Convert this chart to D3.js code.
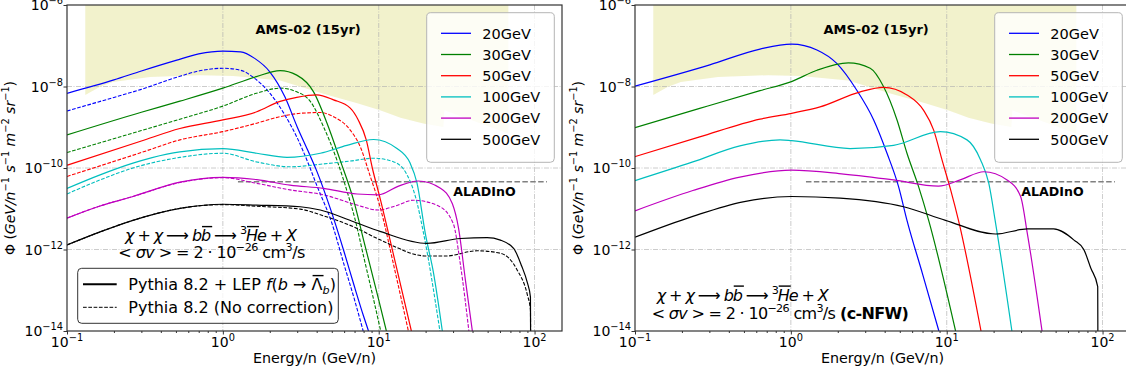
<!DOCTYPE html>
<html>
<head>
<meta charset="utf-8">
<script src="https://cdn.jsdelivr.net/npm/d3@7"></script>
<style>
  body { margin: 0; background: #fff; }
  svg { font-family: "DejaVu Sans", sans-serif; display: block; }
</style>
</head>
<body>
<div id="chart"></div>
<script>
// ---- data: [energy per nucleon (GeV/n), flux] ----
const massLabels = ['20GeV', '30GeV', '50GeV', '100GeV', '200GeV', '500GeV'];

// left panel, Pythia 8.2 + LEP f(b -> Lambda_b) (solid)
const lep20 = [[0.1, 6.8e-9], [0.2, 1.45e-8], [0.3, 2.4e-8], [0.5, 4.37e-8], [0.7, 6.3e-8], [1.0, 7.4e-8], [1.3, 7.1e-8], [1.6, 4.9e-8], [2.0, 2.3e-8], [2.5, 5.6e-9], [3.0, 1.02e-9], [3.5, 2.75e-10], [4.0, 8.5e-11], [5.0, 7.9e-12], [6.0, 8.7e-13], [7.0, 1.2e-13], [8.0, 2.3e-14], [8.6, 1e-14]];
const lep30 = [[0.1, 6.5e-10], [0.3, 2.34e-9], [0.53, 4.37e-9], [1.0, 9.1e-9], [1.64, 1.74e-8], [2.33, 2.45e-8], [2.98, 1.9e-8], [3.82, 7.4e-9], [4.66, 1.26e-9], [5.65, 1.58e-10], [6.9, 1.62e-11], [8.0, 1.7e-12], [10.0, 5.8e-14], [11.2, 1e-14]];
const lep50 = [[0.1, 1.17e-10], [0.3, 4.6e-10], [0.53, 9.3e-10], [1.0, 1.51e-9], [1.65, 2.4e-9], [2.33, 4.3e-9], [2.98, 5.4e-9], [4.0, 6.2e-9], [5.13, 4.7e-9], [6.57, 2.95e-9], [7.39, 1.51e-9], [8.32, 4.9e-10], [9.1, 1.0e-10], [10.2, 1.82e-11], [12.8, 4.7e-13], [16.2, 1e-14]];
const lep100 = [[0.1, 3.16e-11], [0.163, 6.8e-11], [0.265, 1.32e-10], [0.438, 2.2e-10], [0.53, 2.5e-10], [1.0, 3.0e-10], [1.65, 2.3e-10], [2.58, 1.82e-10], [4.22, 2.3e-10], [6.25, 3.6e-10], [9.27, 5.0e-10], [13.1, 3.0e-10], [15.9, 1.32e-10], [17.6, 4.3e-11], [19.9, 2.5e-12], [22.5, 2.6e-13], [25.6, 1e-14]];
const lep200 = [[0.1, 5.9e-12], [0.163, 1.17e-11], [0.265, 2.0e-11], [0.53, 4.5e-11], [1.0, 5.9e-11], [1.65, 5.2e-11], [2.7, 3.8e-11], [4.43, 3.16e-11], [7.26, 2.3e-11], [9.94, 2.2e-11], [13.4, 3.6e-11], [17.9, 4.8e-11], [24.9, 3.2e-11], [29.7, 1.32e-11], [32.5, 3.4e-12], [36.0, 1.78e-13], [39.9, 1e-14]];
const lep500 = [[0.1, 1.29e-12], [0.163, 2.7e-12], [0.265, 5.2e-12], [0.555, 1.05e-11], [1.0, 1.29e-11], [1.65, 1.23e-11], [3.14, 1.12e-11], [4.22, 9.3e-12], [6.9, 4.8e-12], [10.3, 2.75e-12], [20.4, 1.41e-12], [33.4, 1.86e-12], [49.6, 1.95e-12], [60.4, 1.7e-12], [73.6, 1.05e-12], [82.5, 4.0e-13], [90, 1.51e-13], [94.1, 6.8e-14], [94.3, 1e-14]];

// left panel, Pythia 8.2 no correction (dashed)
const raw20 = [[0.1, 2.5e-9], [0.2, 5.4e-9], [0.3, 8.5e-9], [0.5, 1.66e-8], [0.7, 2.4e-8], [1.0, 2.8e-8], [1.3, 2.5e-8], [1.6, 1.58e-8], [2.0, 6.9e-9], [2.5, 2.0e-9], [3.0, 5.5e-10], [3.5, 1.41e-10], [4.0, 3.8e-11], [5.0, 4.5e-12], [6.0, 4.2e-13], [7.0, 5.8e-14], [7.95, 1e-14]];
const raw30 = [[0.1, 2.4e-10], [0.3, 8.3e-10], [0.53, 1.58e-9], [1.0, 3.3e-9], [1.64, 6.8e-9], [2.33, 9.1e-9], [2.98, 7.4e-9], [3.64, 4.3e-9], [4.43, 1.02e-9], [5.39, 1.58e-10], [6.41, 2.0e-11], [7.08, 5.2e-12], [8.0, 6.8e-13], [9.0, 9.8e-14], [10.3, 1e-14]];
const raw50 = [[0.1, 6.2e-11], [0.3, 2.4e-10], [0.53, 4.9e-10], [1.0, 7.8e-10], [1.65, 1.26e-9], [2.33, 1.82e-9], [3.14, 2.2e-9], [4.22, 2.3e-9], [5.13, 1.82e-9], [6.57, 8.5e-10], [7.62, 3.3e-10], [8.83, 6.2e-11], [10.2, 1.12e-11], [12.6, 3.5e-13], [15.5, 1e-14]];
const raw100 = [[0.1, 2.3e-11], [0.163, 5.1e-11], [0.265, 1.0e-10], [0.53, 1.82e-10], [1.0, 2.3e-10], [1.65, 1.41e-10], [2.7, 1.07e-10], [4.43, 1.26e-10], [6.57, 1.48e-10], [9.27, 1.74e-10], [12.5, 1.41e-10], [15.2, 6.8e-11], [17.2, 2.0e-11], [19.4, 2.5e-12], [24.7, 1e-14]];
const raw200 = [[0.1, 5.9e-12], [0.163, 1.17e-11], [0.265, 2.0e-11], [0.53, 4.4e-11], [1.0, 5.8e-11], [1.65, 4.2e-11], [2.7, 2.9e-11], [4.43, 2.2e-11], [7.26, 1.23e-11], [9.94, 9.3e-12], [12.8, 1.17e-11], [16.7, 1.62e-11], [24.2, 1.17e-11], [30.1, 4.3e-12], [33.4, 4.4e-13], [37.9, 1e-14]];
const raw500 = [[0.1, 1.29e-12], [0.163, 2.7e-12], [0.265, 5.2e-12], [0.555, 1.05e-11], [1.0, 1.26e-11], [1.65, 1.15e-11], [3.14, 9.8e-12], [4.22, 7.1e-12], [6.9, 3.6e-12], [10.3, 1.7e-12], [20.4, 6.9e-13], [26.8, 6.9e-13], [42.8, 9.3e-13], [60.4, 8.1e-13], [77.3, 3.16e-13], [90, 7.6e-14], [94.1, 3.3e-14], [94.3, 1e-14]];

// right panel, c-NFW
const nfw20 = [[0.1, 1.02e-8], [0.302, 3.4e-8], [0.634, 8.3e-8], [1.01, 1.1e-7], [1.47, 7.9e-8], [1.97, 3.7e-8], [2.65, 8.1e-9], [3.4, 1.51e-9], [4.14, 2.3e-10], [4.91, 3.5e-11], [5.56, 5.2e-12], [6.98, 2.6e-13], [8.91, 1e-14]];
const nfw30 = [[0.1, 9.8e-10], [0.26, 2.9e-9], [0.634, 7.9e-9], [1.01, 1.32e-8], [1.47, 2.5e-8], [2.34, 3.8e-8], [3.23, 2.8e-8], [3.93, 1.0e-8], [4.8, 1.51e-9], [5.56, 2.3e-10], [6.6, 3.5e-11], [7.66, 5.2e-12], [11.4, 1e-14]];
const nfw50 = [[0.1, 1.9e-10], [0.26, 5.8e-10], [0.634, 1.58e-9], [1.01, 2.2e-9], [1.54, 3.16e-9], [2.79, 7.4e-9], [3.93, 9.5e-9], [5.56, 6.2e-9], [7.11, 2.6e-9], [8.25, 8.5e-10], [9.33, 1.58e-10], [10.6, 2.9e-11], [11.9, 5.2e-12], [16.6, 1e-14]];
const nfw100 = [[0.1, 4.9e-11], [0.235, 1.41e-10], [0.471, 3.5e-10], [0.852, 4.9e-10], [1.01, 4.7e-10], [2.4, 3.0e-10], [4.56, 3.6e-10], [9.1, 7.8e-10], [13.5, 4.9e-10], [16.5, 1.58e-10], [18.6, 4.3e-11], [20.6, 4.4e-12], [26.2, 1e-14]];
const nfw200 = [[0.1, 8.9e-12], [0.235, 2.8e-11], [0.471, 6.0e-11], [1.01, 8.9e-11], [2.18, 7.1e-11], [4.56, 5.1e-11], [8.85, 3.6e-11], [12.2, 5.1e-11], [17.3, 8.1e-11], [24.4, 5.1e-11], [29.8, 2.0e-11], [32.9, 2.5e-12], [40.9, 1e-14]];
const nfw500 = [[0.1, 2.0e-12], [0.235, 6.5e-12], [0.493, 1.48e-11], [1.01, 2.0e-11], [2.07, 1.82e-11], [5.29, 1.12e-11], [9.82, 5.2e-12], [20.6, 2.4e-12], [32.9, 3.2e-12], [48.5, 3.2e-12], [65.6, 1.7e-12], [76.0, 9.8e-13], [84.0, 3.5e-13], [93.1, 1.23e-13], [93.3, 1e-14]];

// AMS-02 (15yr) sensitivity: lower edge of the shaded band (band reaches the top of the axes)
const amsLower = [[0.131, 6.2e-9], [0.163, 9.8e-9], [0.197, 1.29e-8], [0.341, 1.7e-8], [0.715, 1.9e-8], [1.16, 1.82e-8], [2.33, 1.41e-8], [4.41, 6.6e-9], [7.29, 3.9e-9], [10.2, 2.6e-9], [13.8, 1.7e-9], [19.3, 1.23e-9], [26.0, 1.02e-9], [26.4, 2.6e-9], [67.0, 7.1e-10], [67.9, 7.0e-10]];
// ALADInO sensitivity level
const aladino = [[1.25, 4.6e-11], [120, 4.6e-11]];

const xTickExps = [-1, 0, 1, 2];
const yTickExps = [-14, -12, -10, -8, -6];

// ---- layout ----
const W = 1126, H = 376;
const colors = ['#0000ff', '#008000', '#ff0000', '#00bfbf', '#bf00bf', '#000000'];
const plotTop = 5, plotBottom = 331, plotW = 495;

const svg = d3.select('#chart').append('svg')
  .attr('width', W).attr('height', H);

// text with italic / super / subscript parts and optional overbars
function richText(g, x, y, parts, size, anchor, fitWidth) {
  const t = g.append('text')
    .attr('x', x).attr('y', y)
    .attr('font-size', size)
    .attr('text-anchor', anchor || 'start')
    .attr('fill', '#000');
  let shift = 0, idx = 0;
  const bars = [];
  parts.forEach(p => {
    const target = p.sup ? -size * 0.42 : p.sub ? size * 0.25 : 0;
    const s = t.append('tspan').text(p.t).attr('dy', target - shift);
    shift = target;
    const fs = (p.sup || p.sub) ? size * 0.7 : size;
    if (p.sup || p.sub) s.attr('font-size', fs);
    if (p.it) s.attr('font-style', 'italic');
    if (p.b) s.attr('font-weight', 'bold');
    if (p.bar) bars.push([idx, idx + p.t.length - 1, fs]);
    idx += p.t.length;
  });
  if (fitWidth) t.attr('textLength', fitWidth).attr('lengthAdjust', 'spacing');
  const node = t.node();
  bars.forEach(([i0, i1, fs]) => {
    const a = node.getStartPositionOfChar(i0);
    const b = node.getEndPositionOfChar(i1);
    const yy = a.y - fs * 0.9;
    g.append('line')
      .attr('x1', a.x + 1).attr('x2', b.x + 1)
      .attr('y1', yy).attr('y2', yy)
      .attr('stroke', '#000').attr('stroke-width', 1.4);
  });
  return t;
}

function powLabel(g, x, y, e, anchor) {
  return richText(g, x, y, [{ t: '10' }, { t: (e < 0 ? '\u2212' : '') + Math.abs(e), sup: true }], 14, anchor);
}

function drawPanel(left, solid, dashed, id) {
  const x = d3.scaleLog().domain([0.1, 150]).range([left, left + plotW]);
  const y = d3.scaleLog().domain([1e-14, 1e-6]).range([plotBottom, plotTop]);

  const g = svg.append('g');
  g.append('clipPath').attr('id', 'clip' + id)
    .append('rect').attr('x', left).attr('y', plotTop).attr('width', plotW).attr('height', plotBottom - plotTop);
  const plot = g.append('g').attr('clip-path', 'url(#clip' + id + ')');

  // AMS-02 band
  plot.append('path')
    .datum(amsLower)
    .attr('d', d3.area().x(d => x(d[0])).y0(y(1e-6)).y1(d => y(d[1])))
    .attr('fill', '#bfbf00').attr('fill-opacity', 0.2);

  // grid
  const gx = [1, 10, 100], gy = [1e-12, 1e-10, 1e-8];
  plot.selectAll('.gx').data(gx).join('line')
    .attr('x1', d => x(d)).attr('x2', d => x(d)).attr('y1', plotTop).attr('y2', plotBottom)
    .attr('stroke', '#b0b0b0').attr('stroke-width', 0.8).attr('stroke-dasharray', '5,1.5,1,1.5').attr('opacity', 0.8);
  plot.selectAll('.gy').data(gy).join('line')
    .attr('x1', left).attr('x2', left + plotW).attr('y1', d => y(d)).attr('y2', d => y(d))
    .attr('stroke', '#b0b0b0').attr('stroke-width', 0.8).attr('stroke-dasharray', '5,1.5,1,1.5').attr('opacity', 0.8);

  // ALADInO line
  plot.append('path').datum(aladino)
    .attr('d', d3.line().x(d => x(d[0])).y(d => y(d[1])))
    .attr('stroke', '#808080').attr('stroke-width', 1.5).attr('stroke-dasharray', '5.5,2.4').attr('fill', 'none');

  const line = d3.line().x(d => x(d[0])).y(d => y(d[1])).curve(d3.curveMonotoneX);
  dashed.forEach((s, i) => {
    plot.append('path').datum(s).attr('d', line)
      .attr('fill', 'none').attr('stroke', colors[i]).attr('stroke-width', 1.1)
      .attr('stroke-dasharray', '3.7,1.6');
  });
  solid.forEach((s, i) => {
    plot.append('path').datum(s).attr('d', line)
      .attr('fill', 'none').attr('stroke', colors[i]).attr('stroke-width', 1.2);
  });

  // labels inside axes
  g.append('text').attr('x', left + 188.5).attr('y', 34)
    .attr('font-size', 13).attr('font-weight', 'bold').text('AMS-02 (15yr)');
  g.append('text').attr('x', left + 386.3).attr('y', 196)
    .attr('font-size', 12.6).attr('font-weight', 'bold').text('ALADInO');

  // axes ticks (major and minor)
  const minor = [];
  [0.1, 1, 10, 100].forEach(b => { for (let k = 2; k <= 9; k++) if (b * k <= 150) minor.push(b * k); });
  g.append('g').attr('transform', `translate(0,${plotBottom})`)
    .call(d3.axisBottom(x).tickValues(xTickExps.map(e => Math.pow(10, e))).tickSize(3.5).tickFormat(''))
    .call(a => a.select('.domain').remove());
  g.append('g').attr('transform', `translate(0,${plotBottom})`)
    .call(d3.axisBottom(x).tickValues(minor).tickSize(2).tickFormat(''))
    .call(a => a.select('.domain').remove());
  g.append('g').attr('transform', `translate(${left},0)`)
    .call(d3.axisLeft(y).tickValues(yTickExps.map(e => Math.pow(10, e))).tickSize(3.5).tickFormat(''))
    .call(a => a.select('.domain').remove());
  g.selectAll('.tick line').attr('stroke', '#333');

  xTickExps.forEach(e => powLabel(g, x(Math.pow(10, e)), 347, e, 'middle'));
  yTickExps.forEach(e => powLabel(g, left - 4, y(Math.pow(10, e)) + 5, e, 'end'));

  // frame
  g.append('rect').attr('x', left).attr('y', plotTop).attr('width', plotW).attr('height', plotBottom - plotTop)
    .attr('fill', 'none').attr('stroke', '#333').attr('stroke-width', 1.2);

  // axis titles
  g.append('text').attr('x', left + plotW / 2).attr('y', 363)
    .attr('text-anchor', 'middle').attr('font-size', 14.3).text('Energy/n (GeV/n)');
  const yl = g.append('g').attr('transform', `translate(${left - 52},168) rotate(-90)`);
  richText(yl, 0, 0, [
    { t: '\u03A6 (' }, { t: 'GeV/n', it: true }, { t: '\u22121', sup: true },
    { t: ' s', it: true }, { t: '\u22121', sup: true },
    { t: ' m', it: true }, { t: '\u22122', sup: true },
    { t: ' sr', it: true }, { t: '\u22121', sup: true }, { t: ')' }
  ], 14, 'middle');

  // mass legend
  const lg = g.append('g');
  lg.append('rect').attr('x', left + 359.7).attr('y', 12.7).attr('width', 127.6).attr('height', 149.6)
    .attr('rx', 4).attr('fill', '#fff').attr('fill-opacity', 0.8).attr('stroke', '#b5b5b5');
  massLabels.forEach((m, i) => {
    const ry = 33.3 + i * 21.2;
    lg.append('line').attr('x1', left + 374).attr('x2', left + 404).attr('y1', ry).attr('y2', ry)
      .attr('stroke', colors[i]).attr('stroke-width', 1.3);
    lg.append('text').attr('x', left + 415.3).attr('y', ry + 5.3).attr('font-size', 14.5).text(m);
  });

  return g;
}

const gL = drawPanel(67, [lep20, lep30, lep50, lep100, lep200, lep500], [raw20, raw30, raw50, raw100, raw200, raw500], 'L');
const gR = drawPanel(635, [nfw20, nfw30, nfw50, nfw100, nfw200, nfw500], [], 'R');

// process annotation
const line1 = [
  { t: '\u03C7', it: true }, { t: ' + ' }, { t: '\u03C7', it: true }, { t: ' \u27F6 ' },
  { t: 'b', it: true }, { t: 'b', it: true, bar: true }, { t: ' \u27F6 ' },
  { t: '3', sup: true }, { t: 'H', it: true, bar: true }, { t: 'e', it: true }, { t: ' + ' }, { t: 'X', it: true }
];
const line2 = [
  { t: '< ' }, { t: '\u03C3v', it: true }, { t: ' > = 2 \u00B7 10' }, { t: '\u221226', sup: true },
  { t: ' cm' }, { t: '3', sup: true }, { t: '/s' }
];
richText(gL, 125, 241, line1, 16, 'start', 172);
richText(gL, 118.3, 258, line2, 16, 'start', 187);
richText(gR, 656.7, 300.5, line1, 16, 'start', 172);
richText(gR, 651.7, 318.5, line2.concat([{ t: ' (c-NFW)', b: true }]), 16, 'start', 257);

// model legend (left panel)
const ml = gL.append('g');
ml.append('rect').attr('x', 77.7).attr('y', 268.3).attr('width', 260.6).attr('height', 55)
  .attr('rx', 4).attr('fill', '#fff').attr('fill-opacity', 0.8).attr('stroke', '#333');
ml.append('line').attr('x1', 83).attr('x2', 116.7).attr('y1', 284.3).attr('y2', 284.3)
  .attr('stroke', '#000').attr('stroke-width', 2);
ml.append('line').attr('x1', 83).attr('x2', 116.7).attr('y1', 307.3).attr('y2', 307.3)
  .attr('stroke', '#000').attr('stroke-width', 1).attr('stroke-dasharray', '3.7,1.6');
richText(ml, 128.3, 290, [
  { t: 'Pythia 8.2 + LEP ' }, { t: 'f', it: true }, { t: '(' }, { t: 'b', it: true }, { t: ' \u2192 ' },
  { t: '\u039B', bar: true }, { t: 'b', sub: true, it: true }, { t: ')' }
], 16, 'start');
richText(ml, 128.3, 313, [{ t: 'Pythia 8.2 (No correction)' }], 16, 'start');
</script>
</body>
</html>
